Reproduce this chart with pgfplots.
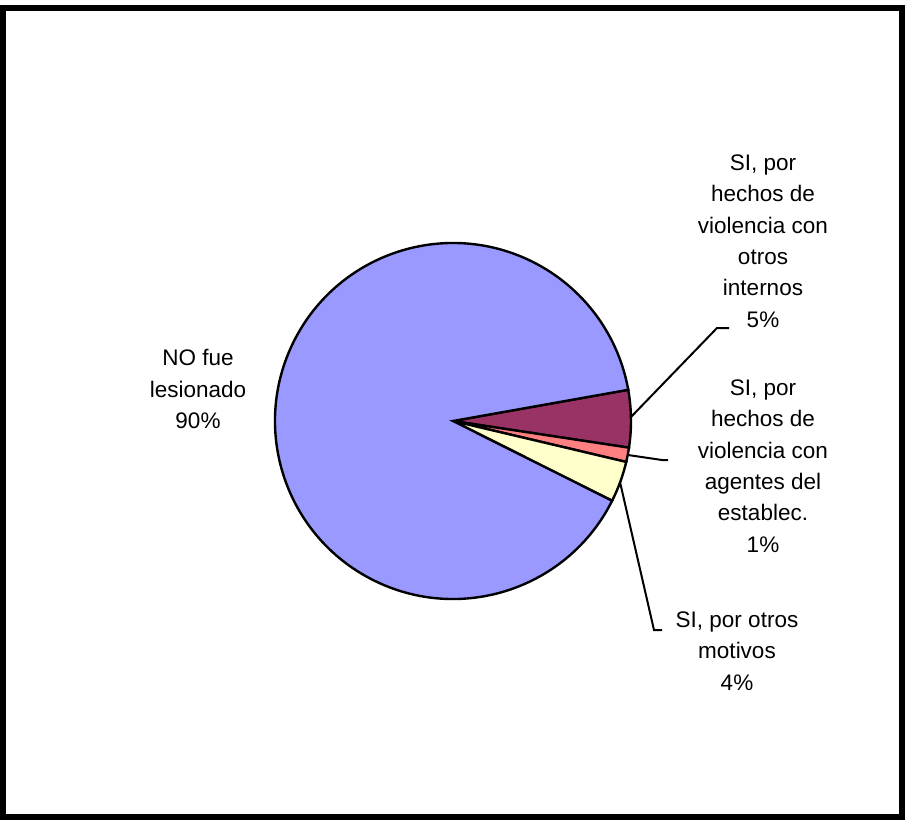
\documentclass[border=0pt]{standalone}
\usepackage{pgfplots}
\usepackage{pgfplotstable}
\pgfplotsset{compat=1.18}
\usepackage{fontspec}
\setmainfont{Liberation Sans}

\definecolor{sliceNo}{HTML}{9999FF}
\definecolor{sliceInt}{HTML}{993366}
\definecolor{sliceAge}{HTML}{FF8080}
\definecolor{sliceMot}{HTML}{FFFFCC}

% shares in percent, clockwise from the right
\pgfplotstableread{
label    value
internos 5.2
agentes  1.3
motivos  3.7
nofue    89.8
}\piedata

\begin{document}
\begin{tikzpicture}
\pgfplotstablegetelem{0}{value}\of\piedata \pgfmathsetmacro\vA{\pgfplotsretval}
\pgfplotstablegetelem{1}{value}\of\piedata \pgfmathsetmacro\vB{\pgfplotsretval}
\pgfplotstablegetelem{2}{value}\of\piedata \pgfmathsetmacro\vC{\pgfplotsretval}
\pgfplotstablegetelem{3}{value}\of\piedata \pgfmathsetmacro\vD{\pgfplotsretval}
\pgfmathsetmacro\aO{10.1}
\pgfmathsetmacro\aA{\aO-3.6*\vA}
\pgfmathsetmacro\aB{\aA-3.6*\vB}
\pgfmathsetmacro\aC{\aB-3.6*\vC}
\pgfmathsetmacro\aD{\aC-3.6*\vD}
\def\lblfont{\fontsize{22.5}{31.3}\selectfont}
\begin{axis}[
    scale only axis,
    width=906pt, height=820pt,
    xmin=0, xmax=906, ymin=0, ymax=820,
    y dir=reverse,
    hide axis, clip=false
]
% frame
\draw[line width=6pt] (axis cs:3,8) rectangle (axis cs:902,817);
% slices
\filldraw[fill=sliceInt, draw=black, line width=2.4pt] (axis cs:453,421) -- ++(\aO:178pt) arc[start angle=\aO, end angle=\aA, radius=178pt] -- cycle;
\filldraw[fill=sliceAge, draw=black, line width=2.4pt] (axis cs:453,421) -- ++(\aA:178pt) arc[start angle=\aA, end angle=\aB, radius=178pt] -- cycle;
\filldraw[fill=sliceMot, draw=black, line width=2.4pt] (axis cs:453,421) -- ++(\aB:178pt) arc[start angle=\aB, end angle=\aC, radius=178pt] -- cycle;
\filldraw[fill=sliceNo, draw=black, line width=2.4pt] (axis cs:453,421) -- ++(\aC:178pt) arc[start angle=\aC, end angle=\aD, radius=178pt] -- cycle;
% leader lines
\draw[line width=2pt] (axis cs:630,418) -- (axis cs:717,328) -- (axis cs:729,328);
\draw[line width=2pt] (axis cs:628,455) -- (axis cs:662,460) -- (axis cs:668,460);
\draw[line width=2pt] (axis cs:620,482) -- (axis cs:654,630) -- (axis cs:662,630);
% labels
\node[align=center, inner sep=0pt, font=\lblfont] at (axis cs:198,389) {NO fue\\lesionado\\90\%};
\node[align=center, inner sep=0pt, font=\lblfont] at (axis cs:763,241) {SI, por\\hechos de\\violencia con\\otros\\internos\\5\%};
\node[align=center, inner sep=0pt, font=\lblfont] at (axis cs:763,466) {SI, por\\hechos de\\violencia con\\agentes del\\establec.\\1\%};
\node[align=center, inner sep=0pt, font=\lblfont] at (axis cs:737,651) {SI, por otros\\motivos\\4\%};
\end{axis}
\pgfresetboundingbox
\path[use as bounding box] (0,0) rectangle (906pt,820pt);
\end{tikzpicture}
\end{document}
